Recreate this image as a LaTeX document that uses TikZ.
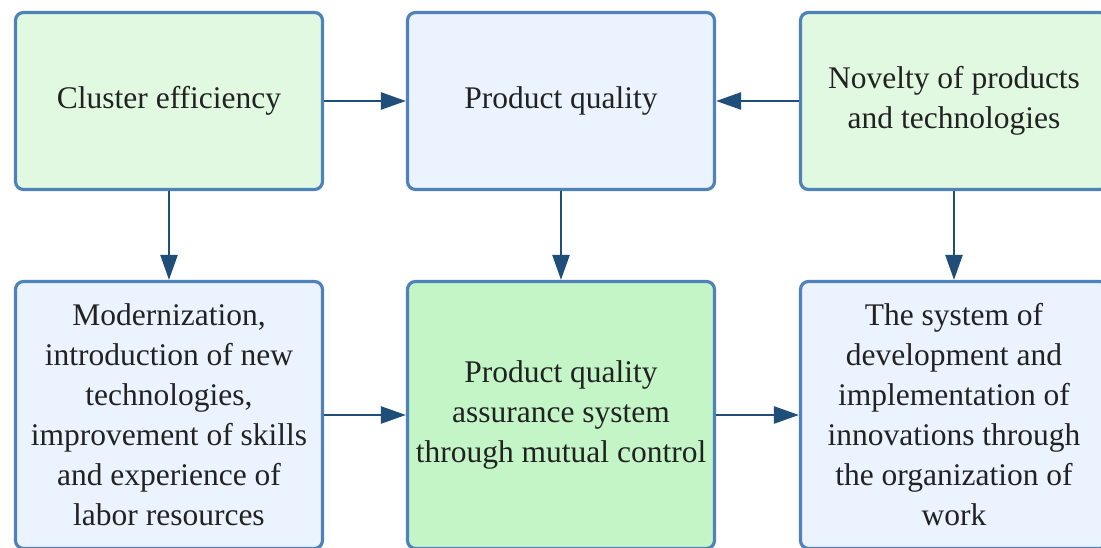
\documentclass[tikz,border=0pt]{standalone}
\usepackage{fontspec}
\setmainfont{Liberation Serif}
\usetikzlibrary{arrows.meta}
\definecolor{boxline}{HTML}{4E82B9}
\definecolor{greenfill}{HTML}{E1F9E1}
\definecolor{bluefill}{HTML}{EBF3FE}
\definecolor{midgreen}{HTML}{C4F5C7}
\definecolor{arrowcol}{HTML}{1F4E79}
\definecolor{textcol}{HTML}{222222}
\begin{document}
\begin{tikzpicture}[x=1pt,y=-1pt,
  boxbase/.style={draw=boxline, line width=3.2pt, rounded corners=8pt, minimum width=307pt,
    align=center, text=textcol, font=\fontsize{31.5}{40}\selectfont, inner sep=0pt},
  topbox/.style={boxbase, minimum height=177pt},
  botbox/.style={boxbase, minimum height=267pt},
  conn/.style={draw=arrowcol, line width=2.5pt, -{Triangle[length=25pt,width=17pt]}}]
\fill[white] (0,0) rectangle (1101,548);
\clip (0,0) rectangle (1101,548);
\useasboundingbox (0,0) rectangle (1101,548);
\node[topbox, fill=greenfill] (ce) at (169,101) {Cluster efficiency};
\node[topbox, fill=bluefill] (pq) at (561,101) {Product quality};
\node[topbox, fill=greenfill] (nov) at (954,101) {Novelty of products\\and technologies};
\node[botbox, fill=bluefill] (mod) at (169,415) {Modernization,\\introduction of new\\technologies,\\improvement of skills\\and experience of\\labor resources};
\node[botbox, fill=midgreen] (qa) at (561,415) {Product quality\\assurance system\\through mutual control};
\node[botbox, fill=bluefill] (sys) at (954,415) {The system of\\development and\\implementation of\\innovations through\\the organization of\\work};
\draw[conn] (ce.east) -- (pq.west);
\draw[conn] (nov.west) -- (pq.east);
\draw[conn] (ce.south) -- (mod.north);
\draw[conn] (pq.south) -- (qa.north);
\draw[conn] (nov.south) -- (sys.north);
\draw[conn] (mod.east) -- (qa.west);
\draw[conn] (qa.east) -- (sys.west);
\end{tikzpicture}
\end{document}
